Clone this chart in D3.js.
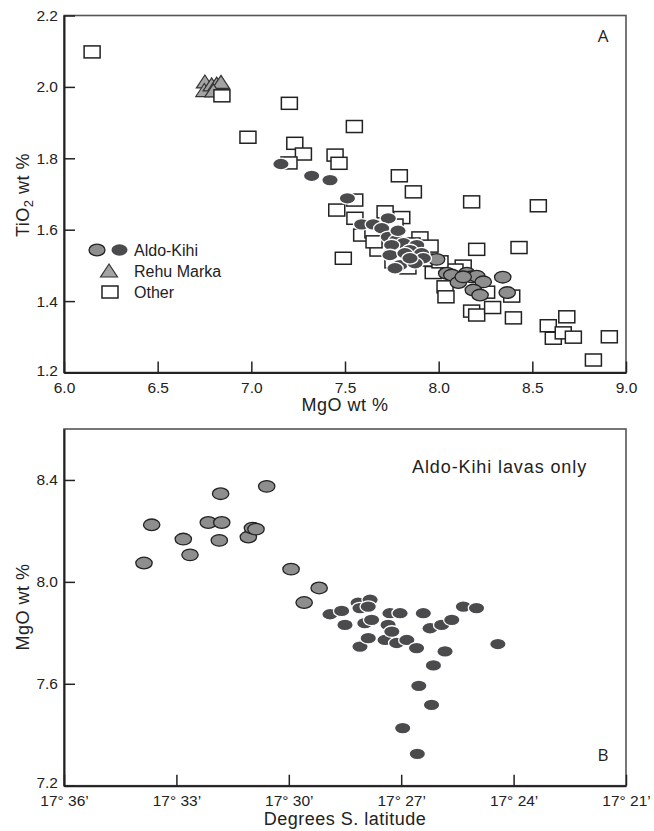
<!DOCTYPE html>
<html>
<head>
<meta charset="utf-8">
<script src="https://cdn.jsdelivr.net/npm/d3@7"></script>
<style>
  body { margin: 0; background: #fff; }
  svg { display: block; font-family: "Liberation Sans", Arial, sans-serif; }
  .tick text { font-size: 15.5px; fill: #222; }
</style>
</head>
<body>
<div id="visual"></div>
<script>

/* Panel A : MgO vs TiO2, [MgO, TiO2] */
var otherPts = [
    [6.15, 2.098], [6.843, 1.975], [7.203, 1.954], [6.982, 1.859], [7.232, 1.842],
    [7.278, 1.812], [7.201, 1.787], [7.447, 1.809], [7.468, 1.786], [7.55, 1.889],
    [7.79, 1.751], [7.865, 1.706], [8.176, 1.678], [8.532, 1.667], [7.552, 1.683],
    [7.456, 1.655], [7.553, 1.632], [7.714, 1.65], [7.803, 1.634], [7.589, 1.585],
    [7.491, 1.52], [8.203, 1.545], [8.429, 1.55], [7.705, 1.552], [7.971, 1.48],
    [8.131, 1.498], [8.034, 1.44], [8.039, 1.412], [8.256, 1.425], [8.39, 1.414],
    [8.176, 1.372], [8.203, 1.361], [8.288, 1.382], [8.399, 1.353], [8.684, 1.356],
    [8.585, 1.331], [8.612, 1.296], [8.665, 1.311], [8.719, 1.299], [8.911, 1.3],
    [8.826, 1.235], [7.649, 1.594], [7.676, 1.543], [7.767, 1.613], [7.9, 1.577],
    [7.954, 1.554], [7.756, 1.51], [7.836, 1.493], [7.927, 1.515], [7.858, 1.56],
    [7.655, 1.566], [8.087, 1.487], [8.007, 1.51]
];

var rehuPts = [
    [6.752, 2.011], [6.749, 1.987], [6.788, 2.003], [6.815, 2.005], [6.838, 2.01], [6.797, 1.986]
];

var aldoDarkPts = [
    [7.158, 1.784], [7.322, 1.751], [7.42, 1.739], [7.513, 1.688], [7.589, 1.615],
    [7.651, 1.615], [7.731, 1.632], [7.696, 1.604], [7.731, 1.58], [7.776, 1.571],
    [7.812, 1.562], [7.749, 1.557], [7.883, 1.557], [7.847, 1.543], [7.74, 1.529],
    [7.82, 1.534], [7.909, 1.534], [7.918, 1.52], [7.794, 1.501], [7.874, 1.506],
    [7.847, 1.52], [7.767, 1.492], [7.783, 1.597]
];

var aldoLightPts = [
    [7.989, 1.517], [8.043, 1.478], [8.07, 1.473], [8.105, 1.452], [8.15, 1.478],
    [8.176, 1.468], [8.203, 1.47], [8.238, 1.454], [8.185, 1.431], [8.221, 1.417],
    [8.342, 1.467], [8.366, 1.424], [8.131, 1.468]
];

/* Panel B : minutes of latitude (17 deg S), MgO */
var latLightPts = [
    [33.865, 8.074], [33.66, 8.224], [32.816, 8.168], [32.637, 8.106], [32.149, 8.233],
    [31.82, 8.346], [31.79, 8.233], [31.855, 8.163], [31.08, 8.176], [30.97, 8.211],
    [30.876, 8.207], [30.59, 8.375], [29.94, 8.05], [29.59, 7.919], [29.19, 7.976]
];

var latDarkPts = [
    [28.9, 7.873], [28.59, 7.886], [28.5, 7.831], [28.15, 7.918], [28.1, 7.897],
    [27.83, 7.93], [27.88, 7.903], [27.97, 7.838], [27.79, 7.851], [28.1, 7.746],
    [27.88, 7.779], [27.43, 7.772], [27.3, 7.877], [27.03, 7.877], [27.35, 7.831],
    [27.25, 7.805], [27.12, 7.76], [26.85, 7.772], [26.59, 7.74], [26.41, 7.877],
    [26.23, 7.818], [25.92, 7.831], [25.65, 7.851], [25.83, 7.727], [25.34, 7.903],
    [24.99, 7.897], [24.42, 7.756], [26.14, 7.672], [26.53, 7.592], [26.19, 7.517],
    [26.96, 7.426], [26.57, 7.325]
];

var mgoTicks = [6.0, 6.5, 7.0, 7.5, 8.0, 8.5, 9.0];
var tioTicks = [1.2, 1.4, 1.6, 1.8, 2.0, 2.2];
var latTicks = [36, 33, 30, 27, 24, 21];
var mgoBTicks = [7.2, 7.6, 8.0, 8.4];

var legendItems = ["Aldo-Kihi", "Rehu Marka", "Other"];

var darkFill = "#4b4b4d", lightFill = "#8e8e8e", triFill = "#a3a3a3", ink = "#222";

var W = 654, H = 831;
var left = 64, right = 626;

var svg = d3.select("#visual").append("svg")
    .attr("width", W)
    .attr("height", H);

function frame(g, x0, y0, x1, y1) {
    g.append("rect")
        .attr("x", x0).attr("y", y0)
        .attr("width", x1 - x0).attr("height", y1 - y0)
        .attr("fill", "none")
        .attr("stroke", "#555")
        .attr("stroke-width", 1.6);
}

function drawAxes(g, x, y, xMajor, xMinor, yMajor, yMinor, xFmt, yFmt, yDy) {
    var x0 = x.range()[0], y0 = y.range()[0];

    var xa = g.append("g").attr("transform", "translate(0," + y0 + ")");
    xa.call(d3.axisBottom(x).tickValues(xMinor).tickSize(-8).tickSizeOuter(0).tickFormat(""));
    xa.call(d3.axisBottom(x).tickValues(xMajor).tickSize(-11).tickSizeOuter(0).tickPadding(9).tickFormat(xFmt));

    var ya = g.append("g").attr("transform", "translate(" + x0 + ",0)");
    ya.call(d3.axisLeft(y).tickValues(yMinor).tickSize(-8).tickSizeOuter(0).tickFormat(""));
    ya.call(d3.axisLeft(y).tickValues(yMajor).tickSize(-11).tickSizeOuter(0).tickPadding(6).tickFormat(yFmt));

    // lowest y label sits a little above its tick, clear of the x labels
    ya.selectAll(".tick text").attr("dy", function (d) {
        return d == yMajor[0] ? yDy : "0.32em";
    });

    g.selectAll(".domain").attr("stroke", ink).attr("stroke-width", 2);
    g.selectAll(".tick line").attr("stroke", ink).attr("stroke-width", 1.5);
}

function ellipses(g, pts, x, y, fill, stroke) {
    g.append("g").selectAll("ellipse")
        .data(pts)
        .enter().append("ellipse")
        .attr("cx", function (d) { return x(d[0]); })
        .attr("cy", function (d) { return y(d[1]); })
        .attr("rx", 8.2)
        .attr("ry", 5.8)
        .attr("fill", fill)
        .attr("stroke", stroke)
        .attr("stroke-width", 1.3);
}

function title(g, x, y, txt, rot) {
    return g.append("text")
        .attr("transform", "translate(" + x + "," + y + ")" + (rot ? " rotate(-90)" : ""))
        .attr("text-anchor", "middle")
        .style("font-size", "18px")
        .style("letter-spacing", "0.5px")
        .attr("fill", ink)
        .text(txt);
}

var triPath = "M0,-8L8.5,5L-8.5,5Z";

// ****************** panel A ***************************

var top1 = 15.5, bot1 = 372.5;
var xA = d3.scaleLinear().domain([6, 9]).range([left, right]);
var yA = d3.scaleLinear().domain([1.2, 2.2]).range([bot1, top1]);

var gA = svg.append("g");
frame(gA, left, top1, right, bot1);
drawAxes(gA, xA, yA,
    mgoTicks, d3.range(6.25, 9, 0.5),
    tioTicks, d3.range(1.3, 2.2, 0.2),
    d3.format(".1f"), d3.format(".1f"), "0.2em");

gA.append("g").selectAll("path")
    .data(rehuPts)
    .enter().append("path")
    .attr("d", triPath)
    .attr("transform", function (d) {
        return "translate(" + xA(d[0]) + "," + yA(d[1]) + ")";
    })
    .attr("fill", triFill)
    .attr("stroke", "#333")
    .attr("stroke-width", 1.2);

gA.append("g").selectAll("rect")
    .data(otherPts)
    .enter().append("rect")
    .attr("x", function (d) { return xA(d[0]) - 8; })
    .attr("y", function (d) { return yA(d[1]) - 6; })
    .attr("width", 16)
    .attr("height", 12)
    .attr("fill", "#fff")
    .attr("stroke", ink)
    .attr("stroke-width", 1.5);

ellipses(gA, aldoLightPts, xA, yA, lightFill, ink);
ellipses(gA, aldoDarkPts, xA, yA, darkFill, "#fff");

gA.append("text")
    .attr("x", 603).attr("y", 42)
    .attr("text-anchor", "middle")
    .style("font-family", "'Open Sans', sans-serif")
    .style("font-size", "17px")
    .attr("fill", ink)
    .text("A");

// legend
var leg = gA.append("g");
leg.append("ellipse").attr("cx", 97).attr("cy", 250).attr("rx", 8).attr("ry", 5.8)
    .attr("fill", lightFill).attr("stroke", ink).attr("stroke-width", 1.3);
leg.append("ellipse").attr("cx", 119.5).attr("cy", 250).attr("rx", 8).attr("ry", 5.8)
    .attr("fill", darkFill);
leg.append("path").attr("d", triPath).attr("transform", "translate(109,272)")
    .attr("fill", triFill).attr("stroke", "#333").attr("stroke-width", 1.2);
leg.append("rect").attr("x", 102).attr("y", 286).attr("width", 16).attr("height", 12)
    .attr("fill", "#fff").attr("stroke", ink).attr("stroke-width", 1.5);
leg.selectAll("text")
    .data(legendItems)
    .enter().append("text")
    .attr("x", 134)
    .attr("y", function (d, i) { return 255.5 + i * 21; })
    .style("font-size", "16px")
    .attr("fill", ink)
    .text(function (d) { return d; });

// axis titles
title(gA, 345, 411, "MgO wt %", false);

var tA = title(gA, 29, 195, "", true);
tA.append("tspan").text("TiO");
tA.append("tspan").attr("dy", 4).style("font-size", "13px").text("2");
tA.append("tspan").attr("dy", -4).text(" wt %");

// ****************** panel B ***************************

var top2 = 429, bot2 = 785.7;
var xB = d3.scaleLinear().domain([36, 21]).range([left, right]);
var yB = d3.scaleLinear().domain([7.2, 8.6]).range([bot2, top2]);

var gB = svg.append("g");
frame(gB, left, top2, right, bot2);
drawAxes(gB, xB, yB,
    latTicks, d3.range(35, 21, -1).filter(function (m) { return m % 3 != 0; }),
    mgoBTicks, [7.3, 7.4, 7.5, 7.7, 7.8, 7.9, 8.1, 8.2, 8.3, 8.5],
    function (m) { return "17\u00b0 " + m + "\u2019"; }, d3.format(".1f"), "0.1em");

ellipses(gB, latLightPts, xB, yB, lightFill, ink);
ellipses(gB, latDarkPts, xB, yB, darkFill, "#fff");

gB.append("text")
    .attr("x", 412).attr("y", 473)
    .style("font-size", "18px")
    .style("letter-spacing", "0.9px")
    .attr("fill", ink)
    .text("Aldo-Kihi lavas only");

gB.append("text")
    .attr("x", 603).attr("y", 761)
    .attr("text-anchor", "middle")
    .style("font-family", "'Open Sans', sans-serif")
    .style("font-size", "17px")
    .attr("fill", ink)
    .text("B");

title(gB, 345, 825, "Degrees S. latitude", false);
title(gB, 29, 607, "MgO wt %", true);

</script>
</body>
</html>
